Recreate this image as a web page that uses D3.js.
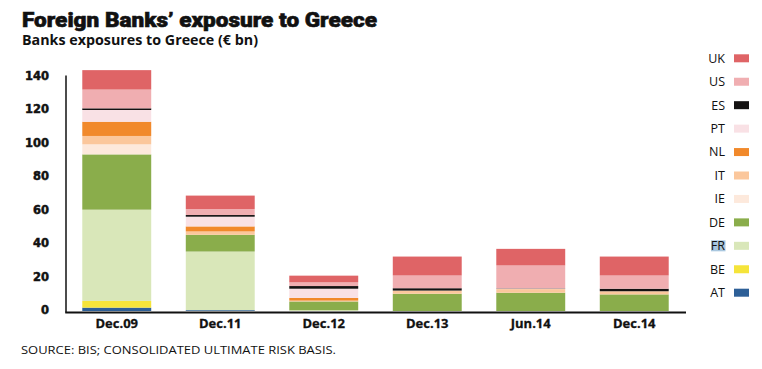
<!DOCTYPE html>
<html><head><meta charset="utf-8">
<script src="https://cdn.jsdelivr.net/npm/d3@7/dist/d3.min.js"></script>
<style>
html,body{margin:0;padding:0;background:#fff;}
svg{display:block;}
</style></head>
<body><svg id="c" width="762" height="369"></svg>
<script>
const categories = ["Dec.09","Dec.11","Dec.12","Dec.13","Jun.14","Dec.14"];
const keys = ["AT","BE","FR","DE","IE","IT","NL","PT","ES","US","UK"];
const AT = [2, 0.5, 0, 0, 0, 0];
const BE = [4, 0, 0, 0, 0, 0];
const FR = [54.5, 35, 0.5, 0, 0, 0];
const DE = [33, 10, 5.2, 10.3, 10.9, 9.9];
const IE = [6, 0, 0, 0, 0, 0];
const IT = [5, 2, 0.5, 1.9, 2.2, 1.9];
const NL = [8.5, 3, 1.6, 0, 0, 0];
const PT = [7, 5.8, 5.5, 0, 0.2, 0];
const ES = [1, 1, 1.6, 1.4, 0.2, 1.5];
const US = [11.2, 3.6, 2.2, 7.6, 13.7, 7.9];
const UK = [11.6, 8, 4, 11.3, 9.9, 11.3];
const yTicks = [0,20,40,60,80,100,120,140];
const colors = {AT:"#2d5f97",BE:"#f5e43a",FR:"#d9e7b9",DE:"#8aad4b",IE:"#fde9dc",IT:"#fbc79c",NL:"#f1892b",PT:"#f9e1e5",ES:"#141212",US:"#f0aeb1",UK:"#df6466"};
const series = {AT,BE,FR,DE,IE,IT,NL,PT,ES,US,UK};

const rows = categories.map((c,i)=>{const r={cat:c}; keys.forEach(k=>r[k]=series[k][i]); return r;});
const svg = d3.select("#c");
const x = d3.scaleBand().domain(categories).range([65,686]).paddingInner(0.334).paddingOuter(0.167);
const y = d3.scaleLinear().domain([0,140]).range([311,76.5]);
const stack = d3.stack().keys(keys)(rows);

svg.append("g").selectAll("g").data(stack).join("g").attr("fill",d=>colors[d.key])
  .selectAll("rect").data(d=>d).join("rect")
  .attr("x",d=>x(d.data.cat)).attr("width",x.bandwidth())
  .attr("y",d=>y(d[1])).attr("height",d=>Math.max(0,y(d[0])-y(d[1])));

// axes
svg.append("line").attr("x1",66).attr("x2",66).attr("y1",y(140)-1).attr("y2",312.5).attr("stroke","#111").attr("stroke-width",1.5);
svg.append("line").attr("x1",65.25).attr("x2",686).attr("y1",312.5).attr("y2",312.5).attr("stroke","#111").attr("stroke-width",1.8);

svg.append("g").selectAll("text").data(yTicks).join("text")
  .attr("x",49).attr("y",d=>y(d)-1).attr("dy","0.35em").attr("text-anchor","end")
  .style("font-family","'DejaVu Sans'").style("font-weight","bold").style("font-size","11.5px")
  .attr("fill","#111").attr("stroke","#111").attr("stroke-width",0.5)
  .text(d=>d);

svg.append("g").selectAll("text").data(categories).join("text")
  .attr("x",d=>x(d)+x.bandwidth()/2).attr("y",328).attr("text-anchor","middle")
  .style("font-family","'Open Sans'").style("font-weight","bold").style("font-size","13px")
  .attr("fill","#111").attr("stroke","#111").attr("stroke-width",0.3)
  .text(d=>d);

// legend
const legKeys = keys.slice().reverse();
const lg = svg.append("g");
legKeys.forEach((k,i)=>{
  const cy = 58.3 + i*23.44;
  if(k==="FR") lg.append("rect").attr("x",711).attr("y",cy-5.5).attr("width",14.5).attr("height",11).attr("fill","#a9c7df");
  lg.append("text").attr("x",725).attr("y",cy).attr("dy","0.35em").attr("text-anchor","end")
    .style("font-family","'Open Sans'").style("font-size","12.5px").attr("fill","#111").text(k);
  lg.append("rect").attr("x",734).attr("y",cy-4).attr("width",15).attr("height",8).attr("fill",colors[k]);
});

// titles
svg.append("text").attr("x",22).attr("y",27).attr("textLength",355).attr("lengthAdjust","spacingAndGlyphs")
  .style("font-family","Roboto").style("font-weight","900").style("font-size","21px")
  .attr("fill","#111").attr("stroke","#111").attr("stroke-width",0.6)
  .text("Foreign Banks\u2019 exposure to Greece");
svg.append("text").attr("x",22).attr("y",44.5).attr("textLength",236).attr("lengthAdjust","spacingAndGlyphs")
  .style("font-family","'Open Sans'").style("font-weight","bold").style("font-size","13.5px").attr("fill","#111")
  .text("Banks exposures to Greece (\u20ac bn)");
svg.append("text").attr("x",21).attr("y",354).attr("textLength",315).attr("lengthAdjust","spacingAndGlyphs")
  .style("font-family","'Open Sans'").style("font-size","11.5px").attr("fill","#111")
  .text("SOURCE: BIS; CONSOLIDATED ULTIMATE RISK BASIS.");
</script></body></html>
